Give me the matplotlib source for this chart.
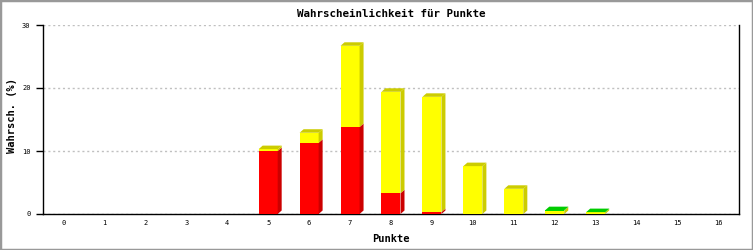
import matplotlib
matplotlib.use("Agg")
import matplotlib.pyplot as plt
from matplotlib.patches import Polygon, Rectangle

categories = list(range(17))
red_vals = [0, 0, 0, 0, 0, 10.0, 11.3, 13.8, 3.3, 0.3, 0, 0, 0, 0, 0, 0, 0]
yellow_vals = [0, 0, 0, 0, 0, 0.3, 1.6, 12.9, 16.1, 18.3, 7.6, 4.0, 0.55, 0.25, 0, 0, 0]
green_vals = [0, 0, 0, 0, 0, 0, 0, 0, 0, 0, 0, 0, 0.06, 0.05, 0, 0, 0]
yticks = [0, 10, 20, 30]

series = [
    (red_vals, "#ff0000", "#cc0000"),
    (yellow_vals, "#ffff00", "#cccc00"),
    (green_vals, "#00dd00", "#00cc00"),
]

W, H = 753, 250
fig = plt.figure(figsize=(W / 100, H / 100), dpi=100)
ax_l, ax_r, ax_b, ax_t = 43, 739, 36, 225
ax = fig.add_axes([ax_l / W, ax_b / H, (ax_r - ax_l) / W, (ax_t - ax_b) / H])
ax.set_xlim(-0.5, 16.5)
ax.set_ylim(0, 30)

# pixel -> data offsets for the 3D depth
px_x = 17 / (ax_r - ax_l)
px_y = 30 / (ax_t - ax_b)
dx, dy = 4 * px_x, 3.5 * px_y
bw = 19 * px_x

mono = "DejaVu Sans Mono"

for i, c in enumerate(categories):
    bottom = 0.0
    segs = []
    for vals, front, dark in series:
        v = vals[i]
        if v > 0:
            segs.append((bottom, bottom + v, front, dark))
        bottom += v
    for k, (b, t, front, dark) in enumerate(segs):
        xl, xr = c - bw / 2, c + bw / 2
        ax.bar(c, t - b, bottom=b, width=bw, color=front, linewidth=0, zorder=3)
        side = Polygon([(xr, b), (xr + dx, b + dy), (xr + dx, t + dy), (xr, t)],
                       closed=True, facecolor=dark, edgecolor="none", zorder=3, clip_on=False)
        ax.add_patch(side)
        if k == len(segs) - 1:
            top = Polygon([(xl, t), (xl + dx, t + dy), (xr + dx, t + dy), (xr, t)],
                          closed=True, facecolor=dark, edgecolor="none", zorder=3, clip_on=False)
            ax.add_patch(top)

ax.set_xticks(categories)
ax.set_xticklabels([str(c) for c in categories], fontsize=5, family=mono)
ax.set_yticks(yticks)
ax.set_yticklabels([str(v) for v in yticks], fontsize=5, family=mono)
ax.tick_params(axis="x", length=0, pad=4)
ax.tick_params(axis="y", length=5, width=1, direction="out", pad=4, color="black")

ax.yaxis.grid(True, color="#c0c0c0", linestyle=(0, (1.5, 2)), linewidth=1)
ax.set_axisbelow(True)
for s in ["left", "bottom", "right"]:
    ax.spines[s].set_color("black")
    ax.spines[s].set_linewidth(1)
ax.spines["top"].set_visible(False)

ax.set_title("Wahrscheinlichkeit für Punkte", fontsize=7.8, family=mono, fontweight="bold", pad=6)
ax.set_xlabel("Punkte", fontsize=7.5, family=mono, fontweight="bold", labelpad=6)
ax.set_ylabel("Wahrsch. (%)", fontsize=7.5, family=mono, fontweight="bold")
ax.yaxis.set_label_coords((17 - ax_l) / (ax_r - ax_l), 0.52)

fig.patches.append(Rectangle((0, 0), 1, 1, transform=fig.transFigure, fill=False,
                             edgecolor="#999999", linewidth=2.5, zorder=10))

fig.savefig("out.png", dpi=100)
